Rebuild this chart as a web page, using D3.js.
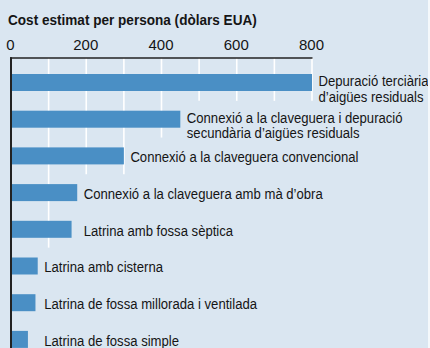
<!DOCTYPE html>
<html>
<head>
<meta charset="utf-8">
<script src="https://cdn.jsdelivr.net/npm/d3@7"></script>
<style>
  html, body { margin: 0; padding: 0; background: #dae6f1; }
  svg { display: block; }
  text { font-family: "Liberation Sans", Arial, sans-serif; fill: #151515; }
</style>
</head>
<body>
<svg id="chart" width="430" height="348"></svg>
<script>
// Estimated cost per person (US dollars) for each sanitation option
const categories = [
  "Depuració terciària\nd’aigües residuals",
  "Connexió a la claveguera i depuració\nsecundària d’aigües residuals",
  "Connexió a la claveguera convencional",
  "Connexió a la claveguera amb mà d’obra",
  "Latrina amb fossa sèptica",
  "Latrina amb cisterna",
  "Latrina de fossa millorada i ventilada",
  "Latrina de fossa simple"
];
const costs = [800, 450, 300, 176, 161, 71, 65, 45];
// rows whose labels share a common left edge
const labelGroups = [0, 1, 2, 3, 3, 4, 4, 4];
const tickValues = [0, 200, 400, 600, 800];
const gridValues = [0, 100, 200, 300, 400, 500, 600, 700, 800];
const title = "Cost estimat per persona (dòlars EUA)";

const W = 430, H = 348;
const FONT = 15;
const NARROW = 0.875;   // condensed look for the row labels
const svg = d3.select("#chart");

svg.append("rect").attr("width", W).attr("height", H).attr("fill", "#dae6f1");

const x = d3.scaleLinear().domain([0, 800]).range([11, 312]);
const y = d3.scaleBand().domain(categories).range([64.15, 357.75])
  .paddingInner(0.5368).paddingOuter(0.2684);
const halfGap = y.step() * y.paddingInner() / 2;
const axisTop = 58;

// title
svg.append("g").attr("transform", "translate(8,25) scale(0.905,1)")
  .append("text").attr("font-size", FONT).attr("font-weight", "bold").text(title);

// top axis tick labels
const xAxis = d3.axisTop(x).tickValues(tickValues).tickSize(0).tickPadding(0)
  .tickFormat(d3.format("d"));
const gAxis = svg.append("g").attr("transform", "translate(-1,49.5)").call(xAxis);
gAxis.select(".domain").remove();
gAxis.attr("font-family", null).attr("font-size", null);
gAxis.selectAll("text").attr("font-size", FONT).attr("dy", 0).attr("fill", "#151515");

// label positions: each group aligns to its longest bar
const groupEnd = {};
costs.forEach((v, i) => {
  const g = labelGroups[i];
  groupEnd[g] = Math.max(groupEnd[g] || 0, x(v));
});

const gridG = svg.append("g");
const barG = svg.append("g");
const labelG = svg.append("g");

barG.selectAll("rect").data(categories).join("rect")
  .attr("x", x(0))
  .attr("y", d => y(d))
  .attr("width", (d, i) => x(costs[i]) - x(0))
  .attr("height", y.bandwidth())
  .attr("fill", "#4a8fc5");

const LINE_H = 15.5;
const extents = [];
labelG.selectAll("g").data(categories).join("g")
  .each(function (d, i) {
    const lines = d.split("\n");
    const lx = groupEnd[labelGroups[i]] + 6.5;
    const ly = y(d) + y.bandwidth() / 2 + 6.2 - (lines.length - 1) * 2.6;
    const g = d3.select(this).attr("transform", `translate(${lx},${ly}) scale(${NARROW},1)`);
    const t = g.append("text").attr("font-size", FONT);
    let maxW = 0;
    lines.forEach((line, k) => {
      const ts = t.append("tspan").attr("x", 0).attr("y", k * LINE_H).text(line);
      maxW = Math.max(maxW, ts.node().getComputedTextLength());
    });
    extents.push({ x0: lx, x1: lx + maxW * NARROW, row: i });
  });

// gridlines stop above the first label they would run into
gridG.selectAll("line").data(gridValues).join("line")
  .attr("x1", d => x(d)).attr("x2", d => x(d))
  .attr("y1", axisTop)
  .attr("y2", d => {
    const gx = x(d);
    const hit = extents.find(e => gx >= e.x0 - 6 && gx <= e.x1);
    if (!hit) return H;
    const top = y(categories[hit.row]);
    return x(costs[hit.row]) >= gx - 0.5 ? top : top - halfGap;
  })
  .attr("stroke", "#ffffff").attr("stroke-width", 1.6);

// axis frame: top rule and left baseline
svg.append("line").attr("x1", 10).attr("x2", 312.5).attr("y1", axisTop).attr("y2", axisTop)
  .attr("stroke", "#222").attr("stroke-width", 1.6);
svg.append("line").attr("x1", x(0)).attr("x2", x(0)).attr("y1", axisTop - 0.8).attr("y2", H)
  .attr("stroke", "#222").attr("stroke-width", 2);

// thin light edge on the right
svg.append("rect").attr("x", W - 2).attr("y", 0).attr("width", 2).attr("height", H).attr("fill", "#f4f8fb");
</script>
</body>
</html>
